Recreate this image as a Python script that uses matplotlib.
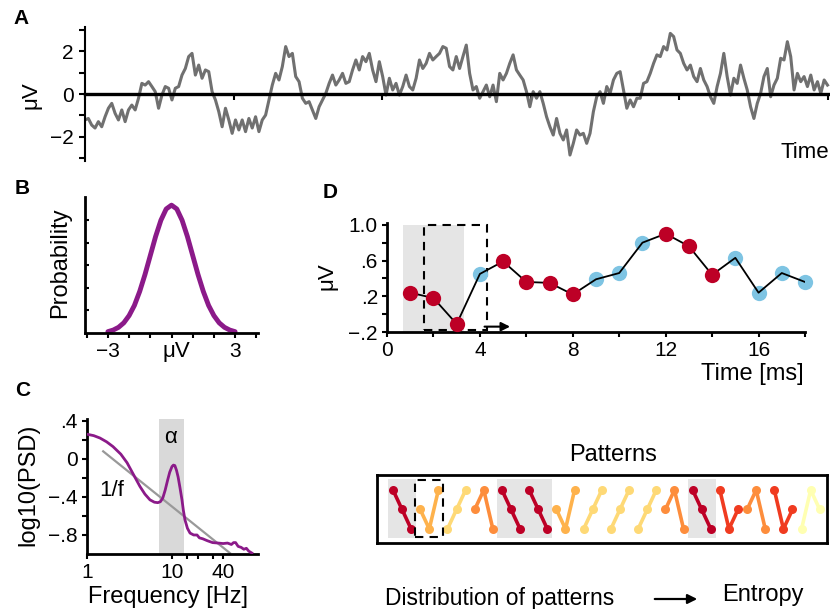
import matplotlib
matplotlib.use("Agg")
import matplotlib.pyplot as plt
from matplotlib import font_manager
from matplotlib.patches import Rectangle, FancyArrowPatch
from matplotlib.ticker import FixedLocator, NullFormatter
import numpy as np

# ---- panel A: raw trace (uV) in four stretches
trace_1 = [-1.22, -1.15, -1.46, -1.6, -1.3, -1.54, -1.07, -0.67, -0.44, -0.91,
           -1.22, -0.75, -1.3, -0.75, -0.52, -0.75, -0.2, 0.5, 0.42, 0.58,
           0.35, 0.11, -0.67, -0.05, 0.35, 0.27, -0.28, 0.27, 0.35, 0.89,
           1.2, 1.76, 1.91, 0.89, 1.36, 0.74, 1.13, 1.05, 0.11, -0.28,
           -0.83, -1.54, -0.67, -1.22, -1.85, -1.22, -1.69, -1.22, -1.77, -1.15,
           -1.6, -1.07, -1.77, -1.22, -0.99]
trace_2 = [-0.28, 0.42, 0.97, 0.66, 1.29, 2.23, 1.76, 1.91, 0.82, 0.58,
           -0.2, -0.44, -0.36, -0.75, -1.15, -0.6, -0.28, 0.03, 0.5, 0.89,
           0.42, 0.66, 0.97, 0.5, 0.58, 1.13, 1.6, 1.13, 1.76, 1.52,
           1.91, 1.13, 0.58, 1.52, 0.82, -0.05, 0.74, 0.19, 0.5, -0.05,
           0.35, 0.89, 0.35, 0.19, 0.74, 1.6, 1.2, 1.44, 1.91, 1.6,
           1.76, 1.91, 2.23, 2.15, 1.29, 1.13]
trace_3 = [1.76, 1.2, 1.76, 2.3, 0.97, 0.19, 0.35, -0.2, 0.11, 0.42,
           -0.13, 0.42, -0.36, 0.97, 0.66, 0.97, 1.44, 1.84, 1.13, 0.89,
           0.66, 0.11, -0.6, 0.11, -0.2, 0.11, -0.44, -1.07, -1.54, -1.93,
           -1.15, -1.85, -2.16, -1.69, -2.87, -2.32, -1.69, -1.93, -1.85, -2.32,
           -1.85, -0.83, -0.13, 0.11, -0.44, 0.35, 0.03, 0.66, 0.97, 1.05,
           0.19, -0.67, -0.28, -0.6, -0.2]
trace_4 = [-0.2, 0.5, 0.58, 0.97, 1.44, 1.84, 1.76, 2.23, 2.07, 2.85,
           2.7, 2.07, 1.91, 1.44, 1.13, 1.36, 0.82, 0.58, 1.2, 0.66,
           0.35, -0.13, -0.44, 0.35, 0.97, 1.91, 0.82, -0.05, 0.74, 0.5,
           1.36, 0.74, 0.19, -0.6, -1.15, -0.44, 0.03, 0.82, 1.2, -0.13,
           0.42, 0.74, 1.68, 1.6, 2.46, 1.76, 0.19, 0.97, 0.58, 0.82,
           0.35, 0.89, 0.19, 0.58, 0.03, 0.66, 0.42]
trace_end = 5.0  # time units covered by the trace (ticks every 1)

# ---- panel B: amplitude distribution
dist_uv = [-3, -2.75, -2.5, -2.25, -2, -1.75, -1.5, -1.25, -1, -0.75, -0.5, -0.25, 0,
           0.25, 0.5, 0.75, 1, 1.25, 1.5, 1.75, 2, 2.25, 2.5, 2.75, 3]
dist_prob = [0.06, 0.13, 0.25, 0.45, 0.77, 1.22, 1.84, 2.59, 3.43, 4.27, 4.99, 5.49, 5.66,
             5.49, 4.99, 4.27, 3.43, 2.59, 1.84, 1.22, 0.77, 0.45, 0.25, 0.13, 0.06]

# ---- panel C: power spectrum
freq = [1.0, 1.2, 1.42, 1.7, 2.02, 2.5, 2.96, 3.5, 4.2, 4.8, 5.5, 6.2, 6.8, 7.3, 7.8,
        8.3, 8.9, 9.4, 10, 10.4, 10.8, 11.3, 11.8, 12.4, 13.1, 13.6, 14.2, 15.2, 16.3,
        18, 19.7, 21, 23, 26, 30, 35, 40, 45, 50, 53, 56, 60, 65, 70, 75, 80, 87]
log_psd = [0.26, 0.245, 0.22, 0.18, 0.13, 0.05, -0.04, -0.16, -0.29, -0.37, -0.43,
           -0.455, -0.46, -0.45, -0.41, -0.33, -0.22, -0.14, -0.08, -0.065, -0.07,
           -0.12, -0.19, -0.30, -0.43, -0.54, -0.64, -0.73, -0.78, -0.80, -0.80,
           -0.83, -0.84, -0.86, -0.88, -0.885, -0.89, -0.885, -0.90, -0.88, -0.88,
           -0.92, -0.93, -0.95, -0.94, -0.97, -0.99]
one_f_freq = [1.55, 48]
one_f_psd = [0.08, -0.99]
alpha_band = [7, 14]

# ---- panel D: downsampled signal
time_ms = list(range(1, 19))
signal_uv = [0.24, 0.18, -0.11, 0.45, 0.59, 0.36, 0.35, 0.22, 0.39, 0.46,
             0.80, 0.90, 0.76, 0.44, 0.63, 0.24, 0.46, 0.36]
window_len = 3

RED = "#bd0026"
BLUE = "#7ec4e3"
PURPLE = "#8b1a89"
GREY = "#707070"
# ordinal pattern (ranks) -> colour
pattern_colors = {
    (2, 1, 0): "#bd0026",
    (2, 0, 1): "#f03b20",
    (1, 2, 0): "#fd8d3c",
    (1, 0, 2): "#feb24c",
    (0, 1, 2): "#fed976",
    (0, 2, 1): "#ffffb2",
}
DESC = (2, 1, 0)

names = {f.name for f in font_manager.fontManager.ttflist}
narrow = "Liberation Sans Narrow" if "Liberation Sans Narrow" in names else "Liberation Sans"
plt.rcParams["font.family"] = ["Liberation Sans", "DejaVu Sans"]
plt.rcParams["axes.unicode_minus"] = True

W, H = 830, 609
fig = plt.figure(figsize=(W / 100, H / 100), dpi=100)


def box(l, t, r, b):
    return [l / W, 1 - b / H, (r - l) / W, (b - t) / H]


def px(x, y):
    return x / W, 1 - y / H


def style(ax, lw=2.0):
    for s in ["top", "right"]:
        ax.spines[s].set_visible(False)
    for s in ["left", "bottom"]:
        ax.spines[s].set_linewidth(lw)


# ---------------- A
ax_a = fig.add_axes(box(85, 27, 830, 161))
trace = trace_1 + trace_2 + trace_3 + trace_4
t = np.linspace(0, trace_end, len(trace))
ax_a.plot(t, trace, color=GREY, lw=2.2)
ax_a.set_xlim(0, 745 / 148.5)
ax_a.set_ylim(-3.15, 3.15)
style(ax_a, 1.5)
ax_a.spines["bottom"].set_position(("data", 0))
ax_a.spines["bottom"].set_linewidth(2.4)
ax_a.set_yticks([-2, 0, 2])
ax_a.set_yticklabels(["\u22122", "0", "2"], family=narrow, fontsize=15)
ax_a.yaxis.set_minor_locator(FixedLocator([-3, -1, 1, 3]))
ax_a.set_xticks(range(6))
ax_a.set_xticklabels([])
ax_a.tick_params(axis="y", which="both", direction="out", length=4, width=1.5, pad=4)
ax_a.tick_params(axis="x", direction="out", length=4, width=1.5)

# ---------------- B
ax_b = fig.add_axes(box(85, 197, 258, 333))
ax_b.plot(dist_uv, dist_prob, color=PURPLE, lw=3.5, solid_capstyle="round")
ax_b.set_xlim(-4.08, 4.08)
ax_b.set_ylim(0, 6.02)
style(ax_b, 2.0)
ax_b.set_xticks([-3, 3])
ax_b.set_xticklabels(["\u22123", "3"], fontsize=15)
ax_b.xaxis.set_minor_locator(FixedLocator([-4, -2, -1, 0, 1, 2, 4]))
ax_b.set_yticks([1, 2, 3, 4, 5])
ax_b.set_yticklabels([])
ax_b.tick_params(axis="x", which="both", direction="out", length=3.5, width=1.5, pad=3)
ax_b.tick_params(axis="y", direction="in", length=3, width=1.5)

# ---------------- C
ax_c = fig.add_axes(box(87, 419, 258, 554))
ax_c.set_xscale("log")
ax_c.axvspan(alpha_band[0], alpha_band[1], color="#d9d9d9", lw=0, zorder=0)
ax_c.plot(one_f_freq, one_f_psd, color="#999999", lw=1.6, zorder=2)
ax_c.plot(freq, log_psd, color=PURPLE, lw=2.0, zorder=3)
ax_c.set_xlim(1, 10 ** (171 / 85))
ax_c.set_ylim(-1.0, 0.42)
style(ax_c, 2.0)
ax_c.set_xticks([1, 10, 40])
ax_c.set_xticklabels(["1", "10", "40"], fontsize=15)
ax_c.xaxis.set_minor_locator(FixedLocator([15, 20, 30]))
ax_c.xaxis.set_minor_formatter(NullFormatter())
ax_c.set_yticks([-0.8, -0.4, 0, 0.4])
ax_c.set_yticklabels(["\u2212.8", "\u2212.4", "0", ".4"], fontsize=15)
ax_c.yaxis.set_minor_locator(FixedLocator([-0.6, -0.2, 0.2]))
ax_c.tick_params(which="both", direction="out", length=3.5, width=1.5, pad=3)
ax_c.text(9.7, 0.23, "\u03b1", fontsize=16, ha="center", va="center")
ax_c.text(1.97, -0.33, "1/f", fontsize=16, ha="center", va="center")

# ---------------- D
ax_d = fig.add_axes(box(387, 223, 805, 332))
sig = np.array(signal_uv)
n_win = len(sig) - window_len + 1
ranks = [tuple(np.argsort(np.argsort(sig[i:i + window_len]))) for i in range(n_win)]
in_desc = np.zeros(len(sig), dtype=bool)
for i, r in enumerate(ranks):
    if r == DESC:
        in_desc[i:i + window_len] = True
tm = np.array(time_ms)

ax_d.add_patch(Rectangle((0.7, -0.2), 2.6, 1.2, color="#e5e5e5", lw=0, zorder=0))
ax_d.add_patch(Rectangle((1.6, -0.18), 2.7, 1.18, fill=False, ls=(0, (4, 3)),
                         lw=1.5, color="k", zorder=1))
ax_d.plot(tm[~in_desc], sig[~in_desc], "o", color=BLUE, ms=11, mew=0, zorder=2, clip_on=False)
ax_d.plot(tm, sig, color="k", lw=1.3, zorder=3)
ax_d.plot(tm[in_desc], sig[in_desc], "o", color=RED, ms=11, mew=0, zorder=4, clip_on=False)
ax_d.annotate("", xy=(5.3, -0.14), xytext=(4.2, -0.14),
              arrowprops=dict(arrowstyle="-|>", lw=1.5, color="k", mutation_scale=13,
                              shrinkA=0, shrinkB=0))
ax_d.set_xlim(0, 18)
ax_d.set_ylim(-0.2, 1.02)
style(ax_d, 2.0)
ax_d.set_xticks([0, 4, 8, 12, 16])
ax_d.set_xticklabels(["0", "4", "8", "12", "16"], fontsize=15)
ax_d.xaxis.set_minor_locator(FixedLocator([2, 6, 10, 14, 18]))
ax_d.set_yticks([-0.2, 0.2, 0.6, 1.0])
ax_d.set_yticklabels(["\u2212.2", ".2", ".6", "1.0"], fontsize=15)
ax_d.yaxis.set_minor_locator(FixedLocator([0.0, 0.4, 0.8]))
ax_d.tick_params(which="both", direction="out", length=3.5, width=1.5, pad=3)

# ---------------- patterns
ax_p = fig.add_axes(box(377, 475, 827, 543))
for i, r in enumerate(ranks):
    x0 = window_len * i
    if r == DESC:
        ax_p.add_patch(Rectangle((x0 - 0.55, -0.46), 3.1, 3.02, color="#e5e5e5", lw=0, zorder=0))
    ax_p.plot(x0 + np.arange(window_len), r, color=pattern_colors[r], lw=2.6,
              marker="o", ms=6.5, mew=0, zorder=2)
ax_p.add_patch(Rectangle((window_len - 0.58, -0.42), 3.12, 2.93, fill=False,
                         ls=(0, (4, 3)), lw=1.5, color="k", zorder=3))
ax_p.set_xlim(-1.76, 47.8)
ax_p.set_ylim(-0.72, 2.77)
ax_p.set_xticks([])
ax_p.set_yticks([])
for s in ax_p.spines.values():
    s.set_linewidth(2)

# ---------------- texts
fig.text(*px(13, 19), "A", family=narrow, weight="bold", fontsize=15, ha="left", va="center")
fig.text(*px(15, 188), "B", weight="bold", fontsize=15, ha="left", va="center")
fig.text(*px(15, 390), "C", weight="bold", fontsize=15, ha="left", va="center")
fig.text(*px(323, 193), "D", weight="bold", fontsize=15, ha="left", va="center")
fig.text(*px(829, 153), "Time", family=narrow, fontsize=16, ha="right", va="center")
fig.text(*px(31, 95), "\u03bcV", family=narrow, fontsize=16, rotation=90, ha="center", va="center")
fig.text(*px(60, 263), "Probability", fontsize=17, rotation=90, ha="center", va="center")
fig.text(*px(176, 351), "\u03bcV", fontsize=16, ha="center", va="center")
fig.text(*px(28, 485), "log10(PSD)", fontsize=17, rotation=90, ha="center", va="center")
fig.text(*px(168, 597), "Frequency [Hz]", fontsize=17, ha="center", va="center")
fig.text(*px(327, 276), "\u03bcV", fontsize=16, rotation=90, ha="center", va="center")
fig.text(*px(804, 374), "Time [ms]", fontsize=17, ha="right", va="center")
fig.text(*px(613, 455), "Patterns", fontsize=17, ha="center", va="center")
fig.text(*px(385, 598), "Distribution of patterns", fontsize=16.5, ha="left", va="center")
fig.text(*px(722, 595), "Entropy", fontsize=17, ha="left", va="center")
fig.add_artist(FancyArrowPatch(px(652, 599), px(700, 599), transform=fig.transFigure,
                               arrowstyle="-|>", mutation_scale=14, lw=1.6, color="k"))

fig.savefig("out.png", dpi=100)
